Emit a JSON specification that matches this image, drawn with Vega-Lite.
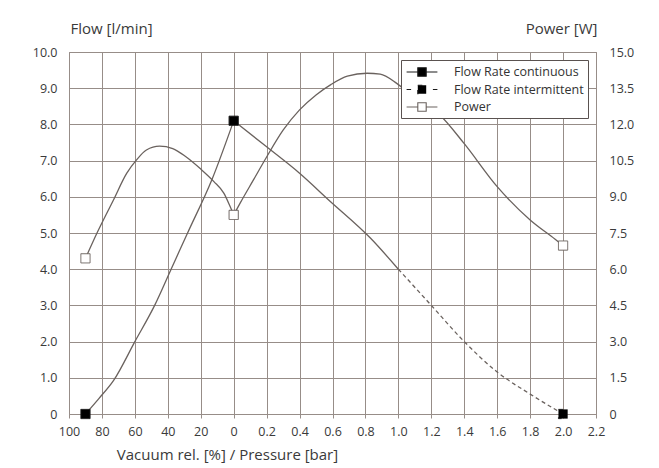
{
  "$schema": "https://vega.github.io/schema/vega-lite/v6.json",
  "width": 527,
  "height": 362,
  "autosize": {"type": "none"},
  "padding": {"left": 69, "top": 52, "right": 63, "bottom": 54},
  "background": "white",
  "config": {
    "view": {"stroke": "#8f8580", "strokeWidth": 1},
    "font": "Open Sans",
    "axis": {
      "labelFont": "Open Sans", "labelFontSize": 12.5, "labelColor": "#3a3a3a",
      "titleFont": "Open Sans", "titleFontSize": 15, "titleFontWeight": "normal", "titleColor": "#3a3a3a",
      "domain": false, "gridColor": "#978d88", "gridOpacity": 1, "gridWidth": 1, "tickColor": "#978d88"
    },
    "legend": {
      "orient": "top-right", "offset": 8, "fillColor": "white", "strokeColor": "#5a5250", "padding": 4,
      "labelFont": "Open Sans", "labelFontSize": 12.5, "labelColor": "#333333", "symbolSize": 196, "symbolStrokeWidth": 1.1,
      "symbolOffset": 9, "labelOffset": 24, "rowPadding": 2.5,
      "symbolType": "M-2.2,0H-0.6M2.2,0H0.6M-0.6,-0.6H0.6V0.6H-0.6Z"
    }
  },
  "datasets": {
    "flowCont": [
      {"seg": "a", "u": -0.9, "v": 0}, {"seg": "a", "u": -0.82, "v": 0.42}, {"seg": "a", "u": -0.73, "v": 0.92},
      {"seg": "a", "u": -0.6, "v": 2.0}, {"seg": "a", "u": -0.48, "v": 3.0}, {"seg": "a", "u": -0.38, "v": 4.0},
      {"seg": "a", "u": -0.28, "v": 5.0}, {"seg": "a", "u": -0.13, "v": 6.5}, {"seg": "a", "u": 0, "v": 8.1},
      {"seg": "b", "u": 0, "v": 8.1}, {"seg": "b", "u": 0.2, "v": 7.38}, {"seg": "b", "u": 0.4, "v": 6.65},
      {"seg": "b", "u": 0.58, "v": 5.9}, {"seg": "b", "u": 0.83, "v": 4.86}, {"seg": "b", "u": 1.0, "v": 4.0}
    ],
    "flowInter": [
      {"u": 1.0, "v": 4.0}, {"u": 1.2, "v": 3.0}, {"u": 1.4, "v": 2.0},
      {"u": 1.6, "v": 1.16}, {"u": 1.8, "v": 0.55}, {"u": 2.0, "v": 0}
    ],
    "power": [
      {"seg": "a", "u": -0.9, "v": 6.45}, {"seg": "a", "u": -0.83, "v": 7.5}, {"seg": "a", "u": -0.73, "v": 8.87},
      {"seg": "a", "u": -0.65, "v": 9.97}, {"seg": "a", "u": -0.59, "v": 10.53}, {"seg": "a", "u": -0.53, "v": 10.94},
      {"seg": "a", "u": -0.45, "v": 11.1}, {"seg": "a", "u": -0.37, "v": 11.0}, {"seg": "a", "u": -0.29, "v": 10.66},
      {"seg": "a", "u": -0.2, "v": 10.15}, {"seg": "a", "u": -0.12, "v": 9.63}, {"seg": "a", "u": -0.06, "v": 9.15},
      {"seg": "a", "u": -0.025, "v": 8.65}, {"seg": "a", "u": 0, "v": 8.25},
      {"seg": "b", "u": 0, "v": 8.25}, {"seg": "b", "u": 0.04, "v": 8.75}, {"seg": "b", "u": 0.12, "v": 9.7},
      {"seg": "b", "u": 0.2, "v": 10.65}, {"seg": "b", "u": 0.3, "v": 11.76}, {"seg": "b", "u": 0.4, "v": 12.6},
      {"seg": "b", "u": 0.5, "v": 13.22}, {"seg": "b", "u": 0.59, "v": 13.65}, {"seg": "b", "u": 0.69, "v": 14.0},
      {"seg": "b", "u": 0.81, "v": 14.12}, {"seg": "b", "u": 0.89, "v": 14.08}, {"seg": "b", "u": 0.99, "v": 13.7},
      {"seg": "b", "u": 1.1, "v": 13.1}, {"seg": "b", "u": 1.25, "v": 12.4}, {"seg": "b", "u": 1.4, "v": 11.2},
      {"seg": "b", "u": 1.6, "v": 9.42}, {"seg": "b", "u": 1.8, "v": 8.04}, {"seg": "b", "u": 1.95, "v": 7.25},
      {"seg": "b", "u": 2.0, "v": 6.98}
    ],
    "flowMarkers": [
      {"series": "Flow Rate continuous", "u": -0.9, "v": 0},
      {"series": "Flow Rate continuous", "u": 0, "v": 8.1},
      {"series": "Flow Rate intermittent", "u": 2.0, "v": 0}
    ],
    "powerMarkers": [
      {"series": "Power", "u": -0.9, "v": 6.45},
      {"series": "Power", "u": 0, "v": 8.25},
      {"series": "Power", "u": 2.0, "v": 6.98}
    ]
  },
  "layer": [
    {
      "layer": [
        {
          "data": {"name": "flowCont"},
          "mark": {"type": "line", "interpolate": "monotone", "color": "#6a625e", "strokeWidth": 1.3},
          "encoding": {
            "x": {"field": "u", "type": "quantitative", "scale": {"domain": [-1, 2.2], "nice": false, "zero": false},
              "axis": {"values": [-1, -0.8, -0.6, -0.4, -0.2, 0, 0.2, 0.4, 0.6, 0.8, 1, 1.2, 1.4, 1.6, 1.8, 2, 2.2],
                "labelExpr": "datum.value < -0.001 ? format(-datum.value*100, 'd') : (abs(datum.value) < 0.001 ? '0' : format(datum.value, '.1f'))",
                "title": "Vacuum rel. [%] / Pressure [bar]", "tickSize": 4, "labelPadding": 7, "labelFlush": false, "labelOverlap": false,
                "titleX": 158, "titleY": 40, "titleAlign": "center", "titleBaseline": "middle", "grid": true}},
            "y": {"field": "v", "type": "quantitative", "scale": {"domain": [0, 10], "nice": false},
              "axis": {"orient": "left", "values": [0, 1, 2, 3, 4, 5, 6, 7, 8, 9, 10],
                "labelExpr": "datum.value == 0 ? '0' : format(datum.value, '.1f')",
                "title": "Flow [l/min]", "titleAngle": 0, "titleAlign": "left", "titleBaseline": "middle",
                "titleX": 1, "titleY": -24, "ticks": false, "labelPadding": 12, "grid": true}},
            "detail": {"field": "seg"}
          }
        },
        {
          "data": {"name": "flowInter"},
          "mark": {"type": "line", "interpolate": "monotone", "color": "#6a625e", "strokeWidth": 1.3, "strokeDash": [4, 3]},
          "encoding": {
            "x": {"field": "u", "type": "quantitative", "scale": {"domain": [-1, 2.2], "nice": false, "zero": false},
              "axis": {"values": [-1, -0.8, -0.6, -0.4, -0.2, 0, 0.2, 0.4, 0.6, 0.8, 1, 1.2, 1.4, 1.6, 1.8, 2, 2.2],
                "labelExpr": "datum.value < -0.001 ? format(-datum.value*100, 'd') : (abs(datum.value) < 0.001 ? '0' : format(datum.value, '.1f'))",
                "title": "Vacuum rel. [%] / Pressure [bar]", "tickSize": 4, "labelPadding": 7, "labelFlush": false, "labelOverlap": false,
                "titleX": 158, "titleY": 40, "titleAlign": "center", "titleBaseline": "middle", "grid": true}},
            "y": {"field": "v", "type": "quantitative", "scale": {"domain": [0, 10], "nice": false},
              "axis": {"orient": "left", "values": [0, 1, 2, 3, 4, 5, 6, 7, 8, 9, 10],
                "labelExpr": "datum.value == 0 ? '0' : format(datum.value, '.1f')",
                "title": "Flow [l/min]", "titleAngle": 0, "titleAlign": "left", "titleBaseline": "middle",
                "titleX": 1, "titleY": -24, "ticks": false, "labelPadding": 12, "grid": true}}
          }
        },
        {
          "data": {"name": "flowMarkers"},
          "mark": {"type": "point", "shape": "square", "filled": true, "size": 85, "strokeWidth": 1, "opacity": 1},
          "encoding": {
            "x": {"field": "u", "type": "quantitative", "scale": {"domain": [-1, 2.2], "nice": false, "zero": false},
              "axis": {"values": [-1, -0.8, -0.6, -0.4, -0.2, 0, 0.2, 0.4, 0.6, 0.8, 1, 1.2, 1.4, 1.6, 1.8, 2, 2.2],
                "labelExpr": "datum.value < -0.001 ? format(-datum.value*100, 'd') : (abs(datum.value) < 0.001 ? '0' : format(datum.value, '.1f'))",
                "title": "Vacuum rel. [%] / Pressure [bar]", "tickSize": 4, "labelPadding": 7, "labelFlush": false, "labelOverlap": false,
                "titleX": 158, "titleY": 40, "titleAlign": "center", "titleBaseline": "middle", "grid": true}},
            "y": {"field": "v", "type": "quantitative", "scale": {"domain": [0, 10], "nice": false},
              "axis": {"orient": "left", "values": [0, 1, 2, 3, 4, 5, 6, 7, 8, 9, 10],
                "labelExpr": "datum.value == 0 ? '0' : format(datum.value, '.1f')",
                "title": "Flow [l/min]", "titleAngle": 0, "titleAlign": "left", "titleBaseline": "middle",
                "titleX": 1, "titleY": -24, "ticks": false, "labelPadding": 12, "grid": true}},
            "fill": {"field": "series", "type": "nominal",
              "scale": {"domain": ["Flow Rate continuous", "Flow Rate intermittent", "Power"], "range": ["#000000", "#000000", "#ffffff"]},
              "legend": {"title": null}},
            "stroke": {"field": "series", "type": "nominal",
              "scale": {"domain": ["Flow Rate continuous", "Flow Rate intermittent", "Power"], "range": ["#1a1a1a", "#1a1a1a", "#6a625e"]},
              "legend": {"title": null}},
            "strokeDash": {"field": "series", "type": "nominal",
              "scale": {"domain": ["Flow Rate continuous", "Flow Rate intermittent", "Power"], "range": [[1, 0], [4.5, 20], [1, 0]]},
              "legend": {"title": null}}
          }
        }
      ]
    },
    {
      "layer": [
        {
          "data": {"name": "power"},
          "mark": {"type": "line", "interpolate": "monotone", "color": "#6a625e", "strokeWidth": 1.3},
          "encoding": {
            "x": {"field": "u", "type": "quantitative", "scale": {"domain": [-1, 2.2], "nice": false, "zero": false},
              "axis": {"values": [-1, -0.8, -0.6, -0.4, -0.2, 0, 0.2, 0.4, 0.6, 0.8, 1, 1.2, 1.4, 1.6, 1.8, 2, 2.2],
                "labelExpr": "datum.value < -0.001 ? format(-datum.value*100, 'd') : (abs(datum.value) < 0.001 ? '0' : format(datum.value, '.1f'))",
                "title": "Vacuum rel. [%] / Pressure [bar]", "tickSize": 4, "labelPadding": 7, "labelFlush": false, "labelOverlap": false,
                "titleX": 158, "titleY": 40, "titleAlign": "center", "titleBaseline": "middle", "grid": true}},
            "y": {"field": "v", "type": "quantitative", "scale": {"domain": [0, 15], "nice": false},
              "axis": {"orient": "right", "values": [0, 1.5, 3, 4.5, 6, 7.5, 9, 10.5, 12, 13.5, 15],
                "labelExpr": "datum.value == 0 ? '0' : format(datum.value, '.1f')",
                "title": "Power [W]", "titleAngle": 0, "titleAlign": "right", "titleBaseline": "middle",
                "titleX": 1, "titleY": -24, "ticks": false, "labelPadding": 13, "grid": false}},
            "detail": {"field": "seg"}
          }
        },
        {
          "data": {"name": "powerMarkers"},
          "mark": {"type": "point", "shape": "square", "filled": true, "size": 85, "strokeWidth": 1, "opacity": 1},
          "encoding": {
            "x": {"field": "u", "type": "quantitative", "scale": {"domain": [-1, 2.2], "nice": false, "zero": false},
              "axis": {"values": [-1, -0.8, -0.6, -0.4, -0.2, 0, 0.2, 0.4, 0.6, 0.8, 1, 1.2, 1.4, 1.6, 1.8, 2, 2.2],
                "labelExpr": "datum.value < -0.001 ? format(-datum.value*100, 'd') : (abs(datum.value) < 0.001 ? '0' : format(datum.value, '.1f'))",
                "title": "Vacuum rel. [%] / Pressure [bar]", "tickSize": 4, "labelPadding": 7, "labelFlush": false, "labelOverlap": false,
                "titleX": 158, "titleY": 40, "titleAlign": "center", "titleBaseline": "middle", "grid": true}},
            "y": {"field": "v", "type": "quantitative", "scale": {"domain": [0, 15], "nice": false},
              "axis": {"orient": "right", "values": [0, 1.5, 3, 4.5, 6, 7.5, 9, 10.5, 12, 13.5, 15],
                "labelExpr": "datum.value == 0 ? '0' : format(datum.value, '.1f')",
                "title": "Power [W]", "titleAngle": 0, "titleAlign": "right", "titleBaseline": "middle",
                "titleX": 1, "titleY": -24, "ticks": false, "labelPadding": 13, "grid": false}},
            "fill": {"field": "series", "type": "nominal",
              "scale": {"domain": ["Flow Rate continuous", "Flow Rate intermittent", "Power"], "range": ["#000000", "#000000", "#ffffff"]},
              "legend": {"title": null}},
            "stroke": {"field": "series", "type": "nominal",
              "scale": {"domain": ["Flow Rate continuous", "Flow Rate intermittent", "Power"], "range": ["#1a1a1a", "#1a1a1a", "#6a625e"]},
              "legend": {"title": null}},
            "strokeDash": {"field": "series", "type": "nominal",
              "scale": {"domain": ["Flow Rate continuous", "Flow Rate intermittent", "Power"], "range": [[1, 0], [4.5, 20], [1, 0]]},
              "legend": {"title": null}}
          }
        }
      ]
    }
  ],
  "resolve": {"scale": {"y": "independent"}}
}
